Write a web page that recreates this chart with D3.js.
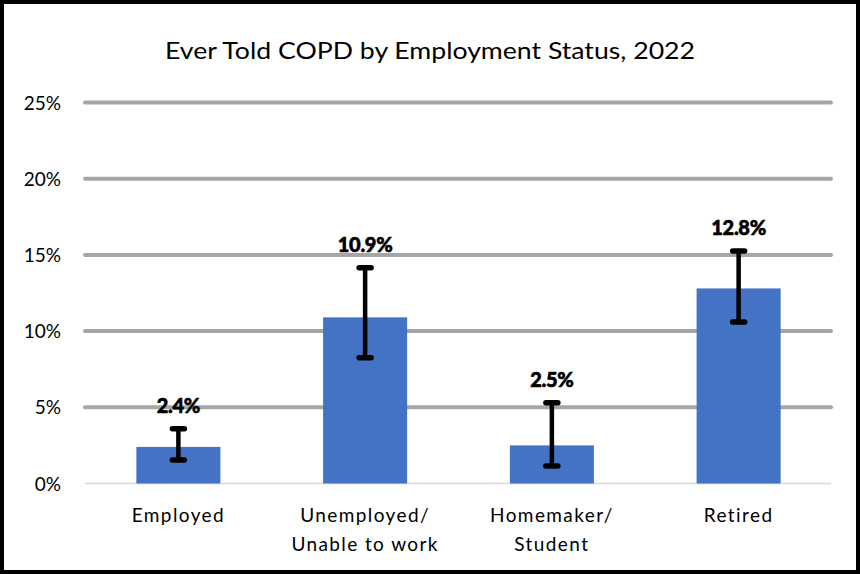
<!DOCTYPE html>
<html><head><meta charset="utf-8">
<script src="https://cdn.jsdelivr.net/npm/d3@7"></script>
<style>body{margin:0;background:#fff}svg{display:block}</style>
</head><body><svg id="c" width="860" height="574"></svg>
<script>
const categories = [["Employed"],["Unemployed/","Unable to work"],["Homemaker/","Student"],["Retired"]];
const values = [2.4, 10.9, 2.5, 12.8];
const errLow = [1.55, 8.25, 1.15, 10.6];
const errHigh = [3.6, 14.15, 5.3, 15.25];
const valueLabels = ["2.4%","10.9%","2.5%","12.8%"];
const yTicks = [0,5,10,15,20,25];
const title = "Ever Told COPD by Employment Status, 2022";

const svg = d3.select("#c");
const font = "Lato, 'Open Sans', sans-serif";
svg.append("rect").attr("x",2).attr("y",2).attr("width",856).attr("height",570)
  .attr("fill","#fff").attr("stroke","#000").attr("stroke-width",4);

const x = d3.scaleBand().domain(d3.range(categories.length)).range([85,832]).paddingInner(0.55).paddingOuter(0.275);
const y = d3.scaleLinear().domain([0,25]).range([483.5,102.5]);

svg.append("text").attr("x",430).attr("y",59).attr("text-anchor","middle")
  .attr("font-family",font).attr("font-size",24).attr("fill","#000")
  .attr("textLength",530).attr("lengthAdjust","spacingAndGlyphs").text(title);

// gridlines
svg.append("g").selectAll("line").data(yTicks.filter(d=>d>0)).join("line")
  .attr("x1",85).attr("x2",831).attr("y1",d=>y(d)).attr("y2",d=>y(d))
  .attr("stroke","#A6A6A6").attr("stroke-width",4).attr("stroke-linecap","round");
svg.append("line").attr("x1",85).attr("x2",831).attr("y1",y(0)).attr("y2",y(0))
  .attr("stroke","#D9D9D9").attr("stroke-width",1.5);

// y axis labels
const yAxis = d3.axisLeft(y).tickValues(yTicks).tickFormat(d=>d+"%").tickSize(0).tickPadding(0);
const ya = svg.append("g").attr("transform","translate(61,0)").call(yAxis);
ya.select(".domain").remove();
ya.selectAll("text").attr("font-family",font).attr("font-size",19).attr("fill","#000").attr("dy","0.35em");

// bars
svg.append("g").selectAll("rect").data(values).join("rect")
  .attr("x",(d,i)=>x(i)).attr("width",x.bandwidth())
  .attr("y",d=>y(d)).attr("height",d=>y(0)-y(d)).attr("fill","#4472C4");

// error bars
const eg = svg.append("g").attr("stroke","#000").attr("stroke-width",4.5).attr("stroke-linecap","round");
values.forEach((v,i)=>{
  const cx = x(i)+x.bandwidth()/2;
  eg.append("line").attr("x1",cx).attr("x2",cx).attr("y1",y(errLow[i])).attr("y2",y(errHigh[i]));
  [errLow[i],errHigh[i]].forEach(e=>{
    eg.append("line").attr("x1",cx-6).attr("x2",cx+6).attr("y1",y(e)).attr("y2",y(e)).attr("stroke-width",5.5);
  });
});

// value labels
svg.append("g").selectAll("text").data(valueLabels).join("text")
  .attr("x",(d,i)=>x(i)+x.bandwidth()/2).attr("y",(d,i)=>y(errHigh[i])-16)
  .attr("text-anchor","middle").attr("font-family",font).attr("font-weight",900)
  .attr("font-size",20).attr("fill","#000").attr("stroke","#000").attr("stroke-width",0.6)
  .attr("letter-spacing","-0.3").text(d=>d);

// category labels
const cg = svg.append("g");
categories.forEach((lines,i)=>{
  const t = cg.append("text").attr("x",x(i)+x.bandwidth()/2).attr("y",522)
    .attr("text-anchor","middle").attr("font-family",font).attr("font-size",19)
    .attr("letter-spacing","1.4").attr("fill","#000");
  lines.forEach((l,j)=>t.append("tspan").attr("x",x(i)+x.bandwidth()/2).attr("dy",j?29:0).text(l));
});
</script></body></html>
